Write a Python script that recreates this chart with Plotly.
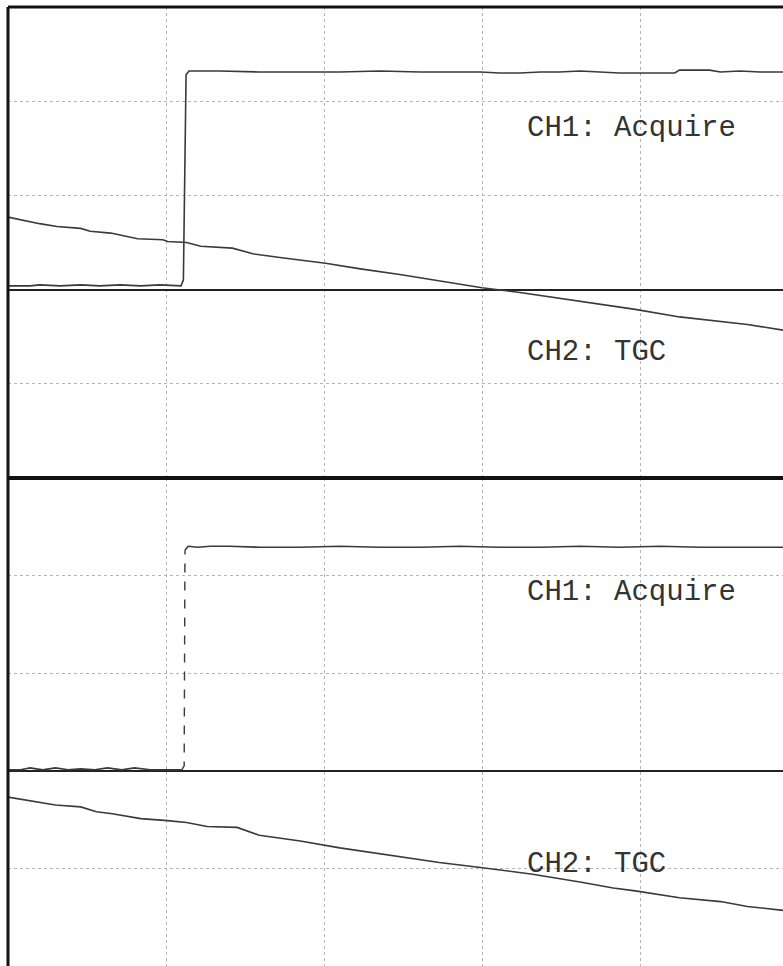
import plotly.graph_objects as go

# ---- data (oscilloscope divisions) ----
# Top screen, CH1: Acquire
top_ch1_x = [0, 0.14, 0.20, 0.33, 0.46, 0.58, 0.71, 0.84, 0.96, 1.04, 1.095, 1.11, 1.115, 1.12, 1.127, 1.145,
             1.34, 1.59, 1.85, 2.10, 2.35, 2.61, 2.86, 2.99, 3.11, 3.24, 3.37, 3.49, 3.62, 3.75, 3.87, 4.00,
             4.13, 4.22, 4.25, 4.44, 4.51, 4.63, 4.76, 4.905]
top_ch1_y = [0.04, 0.04, 0.05, 0.04, 0.05, 0.04, 0.05, 0.04, 0.05, 0.04, 0.04, 0.10, 0.95, 1.80, 2.28, 2.32,
             2.32, 2.31, 2.31, 2.31, 2.32, 2.31, 2.31, 2.31, 2.30, 2.30, 2.31, 2.31, 2.32, 2.31, 2.30, 2.30,
             2.30, 2.30, 2.33, 2.33, 2.31, 2.32, 2.31, 2.31]

# Top screen, CH2: TGC
top_ch2_x = [0, 0.11, 0.20, 0.31, 0.46, 0.52, 0.65, 0.82, 0.98, 1.01, 1.13, 1.22, 1.42, 1.55, 1.72, 2.01,
             2.23, 2.48, 2.73, 3.00, 3.24, 3.62, 3.97, 4.25, 4.46, 4.68, 4.905]
top_ch2_y = [0.77, 0.73, 0.70, 0.67, 0.65, 0.62, 0.60, 0.54, 0.53, 0.51, 0.50, 0.46, 0.44, 0.38, 0.34, 0.28,
             0.22, 0.16, 0.09, 0.02, -0.03, -0.12, -0.21, -0.29, -0.33, -0.37, -0.43]

# Bottom screen, CH1: Acquire (low, edge, high)
bot_ch1_low_x = [0, 0.08, 0.14, 0.22, 0.30, 0.38, 0.46, 0.55, 0.63, 0.72, 0.80, 0.90, 1.00, 1.05, 1.10]
bot_ch1_low_y = [0.01, 0.01, 0.03, 0.01, 0.03, 0.01, 0.02, 0.01, 0.03, 0.01, 0.03, 0.01, 0.01, 0.01, 0.01]
bot_ch1_edge_x = [1.10, 1.115, 1.12]
bot_ch1_edge_y = [0.01, 0.05, 2.26]
bot_ch1_high_x = [1.12, 1.14, 1.20, 1.28, 1.40, 1.60, 1.85, 2.10, 2.35, 2.61, 2.86, 3.11, 3.37, 3.62,
                  3.87, 4.13, 4.38, 4.63, 4.905]
bot_ch1_high_y = [2.26, 2.30, 2.29, 2.30, 2.30, 2.29, 2.29, 2.30, 2.29, 2.29, 2.30, 2.29, 2.29, 2.30,
                  2.29, 2.30, 2.29, 2.29, 2.29]

# Bottom screen, CH2: TGC
bot_ch2_x = [0, 0.11, 0.20, 0.30, 0.46, 0.56, 0.66, 0.84, 1.01, 1.13, 1.26, 1.45, 1.59, 1.85, 2.10, 2.48,
             2.73, 2.99, 3.16, 3.32, 3.62, 3.83, 3.97, 4.25, 4.51, 4.68, 4.905]
bot_ch2_y = [-0.27, -0.30, -0.33, -0.35, -0.37, -0.42, -0.44, -0.49, -0.51, -0.53, -0.57, -0.58, -0.66,
             -0.72, -0.79, -0.88, -0.94, -0.99, -1.03, -1.06, -1.14, -1.20, -1.23, -1.30, -1.34, -1.39, -1.43]

labels_top = ["CH1: Acquire", "CH2: TGC"]
labels_bot = ["CH1: Acquire", "CH2: TGC"]
label_x = 3.27
label_y_top = [1.71, -0.67]
label_y_bot = [1.83, -0.96]

X_RANGE = [0, 4.905]
Y_RANGE = [-2, 3]

TRACE = "#3a3a3a"
line = dict(color=TRACE, width=1.6)

fig = go.Figure()
fig.add_trace(go.Scatter(x=top_ch1_x, y=top_ch1_y, mode="lines", line=line, xaxis="x", yaxis="y"))
fig.add_trace(go.Scatter(x=top_ch2_x, y=top_ch2_y, mode="lines", line=line, xaxis="x", yaxis="y"))
fig.add_trace(go.Scatter(x=bot_ch1_low_x, y=bot_ch1_low_y, mode="lines", line=line, xaxis="x2", yaxis="y2"))
fig.add_trace(go.Scatter(x=bot_ch1_edge_x, y=bot_ch1_edge_y, mode="lines",
                         line=dict(color=TRACE, width=1.4, dash="dash"), xaxis="x2", yaxis="y2"))
fig.add_trace(go.Scatter(x=bot_ch1_high_x, y=bot_ch1_high_y, mode="lines", line=line, xaxis="x2", yaxis="y2"))
fig.add_trace(go.Scatter(x=bot_ch2_x, y=bot_ch2_y, mode="lines", line=line, xaxis="x2", yaxis="y2"))

H, W = 966, 783
top_px, mid_px = 7, 478
split = (H - mid_px) / (H - top_px)

grid = dict(showgrid=True, gridcolor="#b4b4b4", griddash="dot", gridwidth=1,
            showticklabels=False, ticks="", showline=False)

fig.update_layout(
    width=W, height=H,
    margin=dict(l=8, r=0, t=top_px, b=0),
    paper_bgcolor="white", plot_bgcolor="white",
    showlegend=False,
    xaxis=dict(domain=[0, 1], range=X_RANGE, dtick=1, zeroline=False, anchor="y", **grid),
    yaxis=dict(domain=[split, 1], range=Y_RANGE, dtick=1, zeroline=True, zerolinecolor="#222",
               zerolinewidth=1.8, anchor="x", **grid),
    xaxis2=dict(domain=[0, 1], range=X_RANGE, dtick=1, zeroline=False, anchor="y2", **grid),
    yaxis2=dict(domain=[0, split], range=Y_RANGE, dtick=1, zeroline=True, zerolinecolor="#222",
                zerolinewidth=1.8, anchor="x2", **grid),
)

# screen frame
fig.add_shape(type="line", xref="paper", yref="paper", x0=0, x1=0, y0=0, y1=1,
              line=dict(color="#111", width=3))
fig.add_shape(type="line", xref="paper", yref="paper", x0=0, x1=1, y0=1, y1=1,
              line=dict(color="#111", width=3))
fig.add_shape(type="line", xref="paper", yref="paper", x0=0, x1=1, y0=split, y1=split,
              line=dict(color="#111", width=4))

font = dict(family="Liberation Mono, Courier New, monospace", size=29, color="#333")
for txt, yy in zip(labels_top, label_y_top):
    fig.add_annotation(x=label_x, y=yy, xref="x", yref="y", text=txt, showarrow=False,
                       xanchor="left", yanchor="middle", font=font)
for txt, yy in zip(labels_bot, label_y_bot):
    fig.add_annotation(x=label_x, y=yy, xref="x2", yref="y2", text=txt, showarrow=False,
                       xanchor="left", yanchor="middle", font=font)

fig.write_html("out.html")
